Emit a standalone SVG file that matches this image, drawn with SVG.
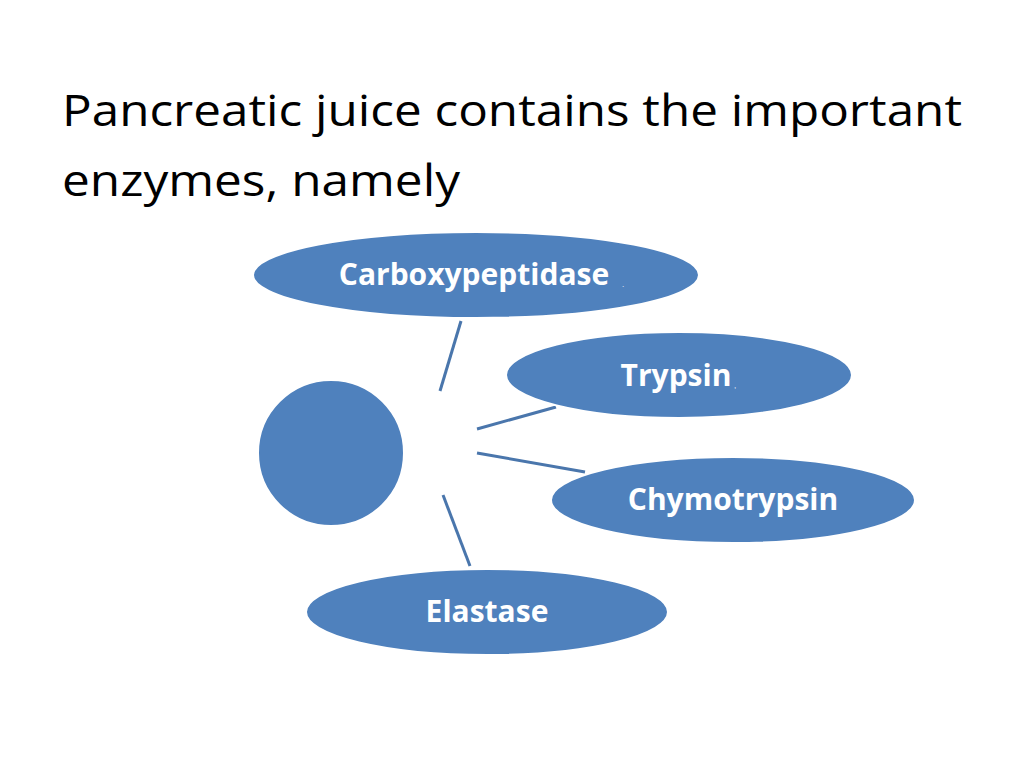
<svg xmlns="http://www.w3.org/2000/svg" width="1024" height="768" viewBox="0 0 1024 768">
<style>
.n{fill:#4F81BD;stroke:#ffffff;stroke-width:2}
.l{fill:#ffffff;font-family:"Open Sans","Liberation Sans",sans-serif;font-weight:bold;font-size:30px;text-anchor:middle}
.t{fill:#000;font-family:"Open Sans","Liberation Sans",sans-serif;font-size:44px}
.c{stroke:#4A76AC;stroke-width:3;fill:none}
.d{fill:#ffffff;font-family:"Liberation Sans",sans-serif;font-size:8px}
</style>
<rect width="1024" height="768" fill="#fff"/>
<text class="t" x="62" y="126" textLength="900" lengthAdjust="spacingAndGlyphs">Pancreatic juice contains the important</text>
<text class="t" x="62" y="196" textLength="398" lengthAdjust="spacingAndGlyphs">enzymes, namely</text>
<g id="connectors">
<line class="c" x1="461" y1="321" x2="440" y2="391"/>
<line class="c" x1="477" y1="429" x2="556" y2="407"/>
<line class="c" x1="477" y1="453" x2="585" y2="472"/>
<line class="c" x1="443" y1="495" x2="470" y2="566"/>
</g>
<g id="center"><circle class="n" cx="331" cy="453" r="73"/></g>
<g id="carboxypeptidase"><ellipse class="n" cx="476" cy="275" rx="223" ry="43"/><text class="l" x="474" y="285">Carboxypeptidase</text><text class="d" x="622" y="287">.</text></g>
<g id="trypsin"><ellipse class="n" cx="679" cy="375" rx="173" ry="43"/><text class="l" x="676" y="386">Trypsin</text><text class="d" x="734" y="388">,</text></g>
<g id="chymotrypsin"><ellipse class="n" cx="733" cy="500" rx="182" ry="43"/><text class="l" x="733" y="510">Chymotrypsin</text></g>
<g id="elastase"><ellipse class="n" cx="487" cy="612" rx="181" ry="43"/><text class="l" x="487" y="622">Elastase</text></g>
</svg>
